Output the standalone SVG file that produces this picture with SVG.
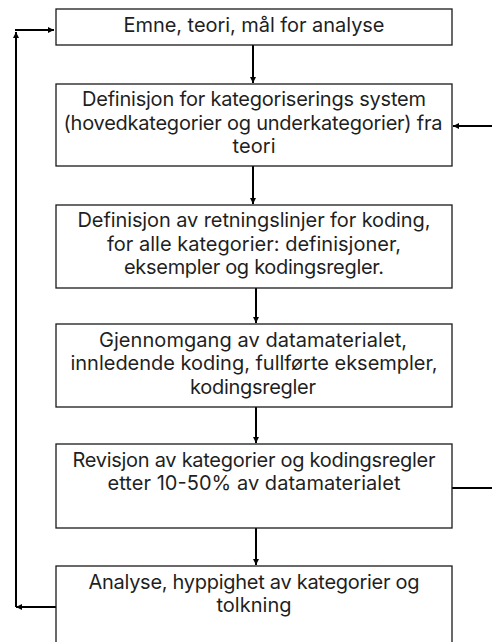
<svg xmlns="http://www.w3.org/2000/svg" width="492" height="642" viewBox="0 0 492 642">
<style>
.box{fill:#ffffff;stroke:#1a1a1a;stroke-width:1.3}
.t{font-family:Inter,"Open Sans","Liberation Sans",Arial,sans-serif;font-size:20px;fill:#1f1f1f;text-anchor:middle}
.c{fill:none;stroke:#000;stroke-width:2;marker-end:url(#ah)}
.cn{fill:none;stroke:#000;stroke-width:2}
</style>
<defs>
<marker id="ah" markerUnits="userSpaceOnUse" markerWidth="8" markerHeight="8" refX="6" refY="4" orient="auto">
<path d="M0,1 L6,4 L0,7 Z" fill="#000"/>
</marker>
</defs>
<rect width="492" height="642" fill="#ffffff"/>
<g id="connectors">
<line class="c" x1="253" y1="45" x2="253" y2="83"/>
<line class="c" x1="253" y1="166" x2="253" y2="204"/>
<line class="c" x1="256" y1="288" x2="256" y2="323"/>
<line class="c" x1="256" y1="407" x2="256" y2="443"/>
<line class="c" x1="256" y1="528" x2="256" y2="565"/>
<line class="c" x1="56" y1="607" x2="16" y2="607"/>
<line class="c" x1="16" y1="607" x2="16" y2="32"/>
<line class="c" x1="15" y1="30" x2="54" y2="30"/>
<line class="c" x1="492" y1="126" x2="453" y2="126"/>
<line class="cn" x1="452" y1="488" x2="492" y2="488"/>
</g>
<g id="n1">
<rect class="box" x="56" y="9" width="396" height="36"/>
<text class="t" x="254" y="31.5" textLength="261">Emne, teori, mål for analyse</text>
</g>
<g id="n2">
<rect class="box" x="56" y="84" width="396" height="82"/>
<text class="t" x="254" y="106" textLength="344">Definisjon for kategoriserings system</text>
<text class="t" x="253" y="129.5" textLength="379">(hovedkategorier og underkategorier) fra</text>
<text class="t" x="254" y="153" textLength="43">teori</text>
</g>
<g id="n3">
<rect class="box" x="56" y="205" width="396" height="83"/>
<text class="t" x="254" y="227" textLength="353">Definisjon av retningslinjer for koding,</text>
<text class="t" x="254" y="250.5" textLength="294">for alle kategorier: definisjoner,</text>
<text class="t" x="254" y="274" textLength="260">eksempler og kodingsregler.</text>
</g>
<g id="n4">
<rect class="box" x="56" y="324" width="396" height="83"/>
<text class="t" x="253" y="346.5" textLength="308">Gjennomgang av datamaterialet,</text>
<text class="t" x="254" y="370" textLength="367">innledende koding, fullførte eksempler,</text>
<text class="t" x="253" y="393.5" textLength="126">kodingsregler</text>
</g>
<g id="n5">
<rect class="box" x="56" y="444" width="396" height="84"/>
<text class="t" x="254" y="466.5" textLength="363">Revisjon av kategorier og kodingsregler</text>
<text class="t" x="254" y="490" textLength="293">etter 10-50% av datamaterialet</text>
</g>
<g id="n6">
<rect class="box" x="56" y="566" width="396" height="90"/>
<text class="t" x="254" y="588.5" textLength="331">Analyse, hyppighet av kategorier og</text>
<text class="t" x="254" y="612" textLength="75">tolkning</text>
</g>
</svg>
